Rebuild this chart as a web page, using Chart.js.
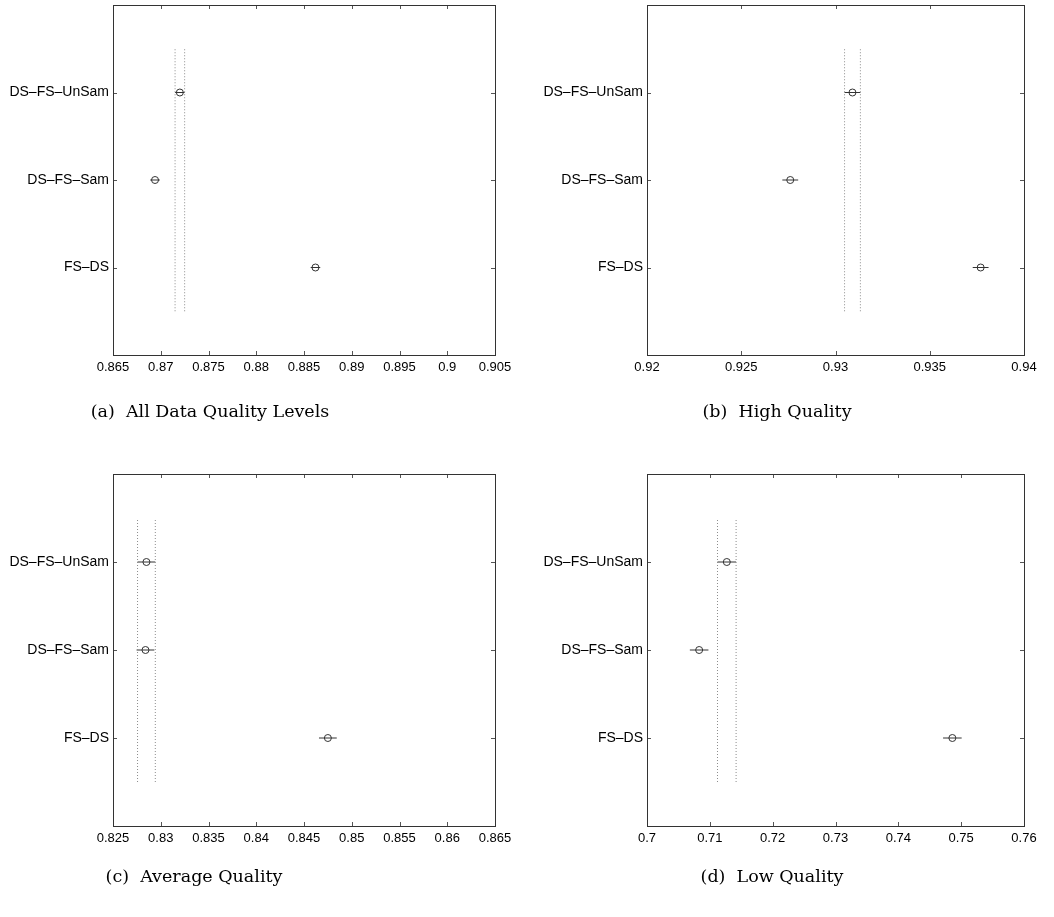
<!DOCTYPE html>
<html><head><meta charset="utf-8">
<script src="https://cdn.jsdelivr.net/npm/chart.js@4.4.1/dist/chart.umd.min.js"></script>
<style>
html,body{margin:0;padding:0;background:#fff;}
#wrap{position:relative;width:1054px;height:917px;overflow:hidden;background:#fff;}
canvas.c{position:absolute;left:0;top:0;}
.cap{position:absolute;font-family:"DejaVu Serif",serif;font-size:17.5px;color:#000;white-space:nowrap;transform:translate(-50%,-50%);}
</style></head>
<body><div id="wrap">
<canvas id="ca" class="c" width="1054" height="917"></canvas>
<canvas id="cb" class="c" width="1054" height="917"></canvas>
<canvas id="cc" class="c" width="1054" height="917"></canvas>
<canvas id="cd" class="c" width="1054" height="917"></canvas>
<div class="cap" style="left:210px;top:411px">(a)&nbsp; All Data Quality Levels</div>
<div class="cap" style="left:777px;top:411px">(b)&nbsp; High Quality</div>
<div class="cap" style="left:194px;top:876px">(c)&nbsp; Average Quality</div>
<div class="cap" style="left:772px;top:876px">(d)&nbsp; Low Quality</div>
</div>
<script>
// ---- data ----
const categories = ['FS\u2013DS', 'DS\u2013FS\u2013Sam', 'DS\u2013FS\u2013UnSam'];
const groupPos = [1, 2, 3];

const allMeans = [0.8862, 0.8694, 0.8720];
const allHalfWidth = 0.0005;
const allTicks = [0.865, 0.87, 0.875, 0.88, 0.885, 0.89, 0.895, 0.9, 0.905];

const highMeans = [0.9377, 0.9276, 0.9309];
const highHalfWidth = 0.00042;
const highTicks = [0.92, 0.925, 0.93, 0.935, 0.94];

const avgMeans = [0.8475, 0.8284, 0.8285];
const avgHalfWidth = 0.00093;
const avgTicks = [0.825, 0.83, 0.835, 0.84, 0.845, 0.85, 0.855, 0.86, 0.865];

const lowMeans = [0.7486, 0.7083, 0.7127];
const lowHalfWidth = 0.00148;
const lowTicks = [0.7, 0.71, 0.72, 0.73, 0.74, 0.75, 0.76];

// ---- drawing ----
const W = 1054, H = 917, YW = 110, XH = 30;

const boxPlugin = {
  id: 'matlabBox',
  afterDatasetsDraw(chart) {
    const {ctx, chartArea: a, scales} = chart;
    ctx.save();
    ctx.strokeStyle = '#555';
    ctx.lineWidth = 1;
    ctx.beginPath();
    scales.x.ticks.forEach(t => {
      const px = Math.round(scales.x.getPixelForValue(t.value)) + 0.5;
      ctx.moveTo(px, a.bottom); ctx.lineTo(px, a.bottom - 4);
      ctx.moveTo(px, a.top); ctx.lineTo(px, a.top + 4);
    });
    scales.y.ticks.forEach(t => {
      const py = Math.round(scales.y.getPixelForValue(t.value)) + 0.5;
      ctx.moveTo(a.left, py); ctx.lineTo(a.left + 4, py);
      ctx.moveTo(a.right, py); ctx.lineTo(a.right - 4, py);
    });
    ctx.stroke();
    ctx.strokeStyle = '#333';
    ctx.strokeRect(Math.round(a.left) + 0.5, Math.round(a.top) + 0.5,
                   Math.round(a.right - a.left), Math.round(a.bottom - a.top));
    ctx.restore();
  }
};

function fmt(v) { return parseFloat(v.toFixed(4)).toString(); }

function makePanel(id, means, hw, ticks, area) {
  const datasets = [];
  const ref = means[2];
  [ref - hw, ref + hw].forEach(x => datasets.push({
    data: [{x: x, y: 0.5}, {x: x, y: 3.5}], showLine: true,
    borderColor: '#8c8c8c', borderWidth: 1, borderDash: [1, 2], pointRadius: 0
  }));
  means.forEach((m, i) => datasets.push({
    data: [{x: m - hw, y: groupPos[i]}, {x: m + hw, y: groupPos[i]}], showLine: true,
    borderColor: '#333', borderWidth: 1, pointRadius: 0
  }));
  datasets.push({
    data: means.map((m, i) => ({x: m, y: groupPos[i]})),
    pointStyle: 'circle', pointRadius: 3.5, borderColor: '#333', borderWidth: 1,
    backgroundColor: 'rgba(0,0,0,0)'
  });
  new Chart(document.getElementById(id), {
    type: 'scatter',
    data: {datasets},
    plugins: [boxPlugin],
    options: {
      responsive: false, animation: false, events: [],
      layout: {padding: {left: area.left - YW, top: area.top, right: W - area.right, bottom: H - area.bottom - XH}},
      plugins: {legend: {display: false}, tooltip: {enabled: false}},
      scales: {
        x: {
          type: 'linear', min: ticks[0], max: ticks[ticks.length - 1],
          afterBuildTicks: s => { s.ticks = ticks.map(v => ({value: v})); },
          afterFit: s => { s.height = XH; s.paddingLeft = 0; s.paddingRight = 0; },
          ticks: {callback: v => fmt(v), font: {family: 'Liberation Sans', size: 13}, color: '#000', padding: 5, maxRotation: 0, autoSkip: false},
          grid: {display: false, drawTicks: false}, border: {display: false}
        },
        y: {
          type: 'linear', min: 0, max: 4,
          afterBuildTicks: s => { s.ticks = groupPos.map(v => ({value: v})); },
          afterFit: s => { s.width = YW; s.paddingTop = 0; s.paddingBottom = 0; },
          ticks: {callback: v => categories[groupPos.indexOf(v)], font: {family: 'Liberation Sans', size: 14}, color: '#000', padding: 4, autoSkip: false},
          grid: {display: false, drawTicks: false}, border: {display: false}
        }
      }
    }
  });
}

makePanel('ca', allMeans, allHalfWidth, allTicks, {left: 113, top: 4, right: 495, bottom: 355});
makePanel('cb', highMeans, highHalfWidth, highTicks, {left: 647, top: 4, right: 1024, bottom: 355});
makePanel('cc', avgMeans, avgHalfWidth, avgTicks, {left: 113, top: 474, right: 495, bottom: 826});
makePanel('cd', lowMeans, lowHalfWidth, lowTicks, {left: 647, top: 474, right: 1024, bottom: 826});
</script>
</body></html>
